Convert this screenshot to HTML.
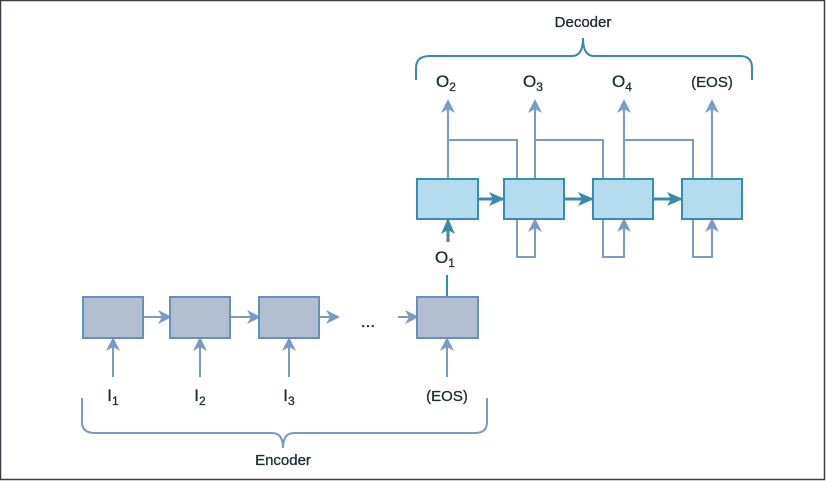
<!DOCTYPE html>
<html><head><meta charset="utf-8"><style>
html,body{margin:0;padding:0;background:#fff}
svg{display:block}
text{font-family:"Liberation Sans",sans-serif;fill:#1f2833;stroke:#1f2833;stroke-width:0.3}
</style></head><body>
<svg width="826" height="481" viewBox="0 0 826 481">
<defs>
<marker id="ah" markerWidth="14" markerHeight="14" refX="11" refY="7" orient="auto" markerUnits="userSpaceOnUse"><path d="M0,0 L14,7 L0,14 L4,7 Z" fill="#7a9cc2"/></marker>
<marker id="at" markerWidth="16" markerHeight="14" refX="14" refY="7" orient="auto" markerUnits="userSpaceOnUse"><path d="M0,0 L16,7 L0,14 L4,7 Z" fill="#3a8aaa"/></marker>
</defs>
<rect x="0.5" y="0.5" width="824" height="479" fill="none" stroke="#3a3d44" stroke-width="1.5"/>

<path d="M416,80 V68 Q416,56 430,56 H572 Q583,56 583,38 Q583,56 594,56 H740 Q752,56 752,68 V80" fill="none" stroke="#3a8aaa" stroke-width="2"/>
<text x="583" y="27" font-size="15" text-anchor="middle">Decoder</text>

<g font-size="17" text-anchor="middle">
<text x="446" y="87">O<tspan font-size="12" dy="4">2</tspan></text>
<text x="533" y="87">O<tspan font-size="12" dy="4">3</tspan></text>
<text x="622" y="87">O<tspan font-size="12" dy="4">4</tspan></text>
<text x="712" y="87" font-size="15">(EOS)</text>
</g>

<g fill="none" stroke="#7a9cc2" stroke-width="2">
<line x1="448" y1="179" x2="448" y2="102" marker-end="url(#ah)"/>
<line x1="535" y1="179" x2="535" y2="102" marker-end="url(#ah)"/>
<line x1="624" y1="179" x2="624" y2="102" marker-end="url(#ah)"/>
<line x1="712" y1="179" x2="712" y2="102" marker-end="url(#ah)"/>
<polyline points="448,140 517,140 517,179"/>
<polyline points="535,140 603,140 603,179"/>
<polyline points="624,140 693,140 693,179"/>
<polyline points="517,219 517,257 535,257 535,221" marker-end="url(#ah)"/>
<polyline points="603,219 603,257 624,257 624,221" marker-end="url(#ah)"/>
<polyline points="693,219 693,257 712,257 712,221" marker-end="url(#ah)"/>
</g>

<g stroke="#3a8aaa" stroke-width="3" fill="none">
<line x1="479" y1="199" x2="503" y2="199" marker-end="url(#at)"/>
<line x1="565" y1="199" x2="592" y2="199" marker-end="url(#at)"/>
<line x1="654" y1="199" x2="681" y2="199" marker-end="url(#at)"/>
<line x1="448" y1="242" x2="448" y2="220" marker-end="url(#at)"/>
</g>

<g fill="#b3dcef" stroke="#3a8db0" stroke-width="2">
<rect x="417" y="179" width="61" height="40"/>
<rect x="504" y="179" width="60" height="40"/>
<rect x="593" y="179" width="60" height="40"/>
<rect x="682" y="179" width="60" height="40"/>
</g>

<text x="445" y="263" font-size="17" text-anchor="middle">O<tspan font-size="12" dy="4">1</tspan></text>
<line x1="447" y1="275" x2="447" y2="297" stroke="#3a8aaa" stroke-width="2"/>

<g stroke="#7a9cc2" stroke-width="2" fill="none">
<line x1="143" y1="317" x2="169" y2="317" marker-end="url(#ah)"/>
<line x1="230" y1="317" x2="258" y2="317" marker-end="url(#ah)"/>
<line x1="319" y1="317" x2="337" y2="317" marker-end="url(#ah)"/>
<line x1="398" y1="317" x2="416" y2="317" marker-end="url(#ah)"/>
<line x1="113" y1="377" x2="113" y2="340" marker-end="url(#ah)"/>
<line x1="200" y1="377" x2="200" y2="340" marker-end="url(#ah)"/>
<line x1="289" y1="377" x2="289" y2="340" marker-end="url(#ah)"/>
<line x1="447" y1="377" x2="447" y2="340" marker-end="url(#ah)"/>
</g>

<g fill="#b2bfd0" stroke="#6a8fb8" stroke-width="2">
<rect x="83" y="297" width="60" height="41"/>
<rect x="170" y="297" width="60" height="41"/>
<rect x="259" y="297" width="60" height="41"/>
<rect x="417" y="297" width="61" height="41"/>
</g>
<text x="368" y="327" font-size="17" text-anchor="middle">...</text>

<g font-size="17" text-anchor="middle">
<text x="113" y="401">I<tspan font-size="12" dy="4">1</tspan></text>
<text x="200" y="401">I<tspan font-size="12" dy="4">2</tspan></text>
<text x="289" y="401">I<tspan font-size="12" dy="4">3</tspan></text>
<text x="447" y="401" font-size="15">(EOS)</text>
</g>

<path d="M82,398 V422 Q82,433 95,433 H272 Q283,433 283,448 Q283,433 294,433 H475 Q487,433 487,422 V398" fill="none" stroke="#7a9cc2" stroke-width="2"/>
<text x="283" y="465" font-size="15" text-anchor="middle">Encoder</text>
</svg>
</body></html>
